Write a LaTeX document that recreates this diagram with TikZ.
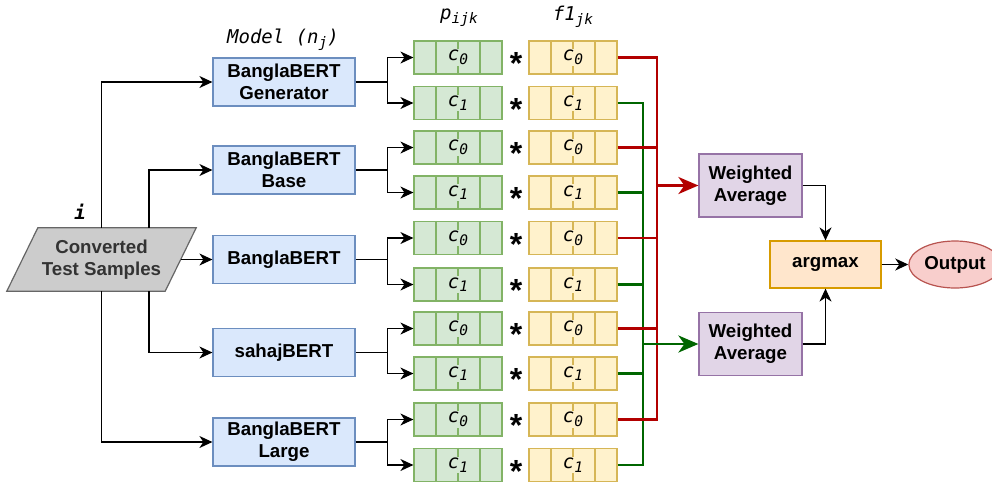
\documentclass[tikz,border=0pt]{standalone}
\usepackage{fontspec}
\setmainfont{Liberation Sans}
\setmonofont{DejaVu Sans Mono}
\usepackage{tikz}
\usetikzlibrary{arrows.meta,shapes.geometric}

\definecolor{modelfill}{HTML}{DAE8FC}
\definecolor{modelline}{HTML}{6C8EBF}
\definecolor{probfill}{HTML}{D5E8D4}
\definecolor{probline}{HTML}{82B366}
\definecolor{fonefill}{HTML}{FFF2CC}
\definecolor{foneline}{HTML}{D6B656}
\definecolor{avgfill}{HTML}{E1D5E7}
\definecolor{avgline}{HTML}{9673A6}
\definecolor{maxfill}{HTML}{FFE6CC}
\definecolor{maxline}{HTML}{D79B00}
\definecolor{outfill}{HTML}{F8CECC}
\definecolor{outline}{HTML}{B85450}
\definecolor{redbus}{HTML}{B20000}
\definecolor{greenbus}{HTML}{006600}

\newcommand{\boldtext}{\bfseries\fontsize{18.7}{22}\selectfont}
\newcommand{\monotext}{\ttfamily\itshape\fontsize{19}{22}\selectfont}
\newcommand{\lowsub}[1]{\raisebox{-0.35ex}{\fontsize{14.5}{15}\selectfont#1}}

\begin{document}
\begin{tikzpicture}[x=1pt,y=-1pt,
    every node/.style={font=\boldtext, align=center, inner sep=2pt},
    model/.style={draw=modelline, fill=modelfill, line width=1.2pt,
      minimum width=142pt, minimum height=48pt},
    cell/.style={draw=#1line, fill=#1fill, line width=1.2pt,
      minimum width=88pt, minimum height=33pt, inner sep=0pt},
    cellname/.style={fill=#1fill, font=\monotext, inner sep=1pt},
    avg/.style={draw=avgline, fill=avgfill, line width=1.2pt,
      minimum width=103pt, minimum height=63pt},
    link/.style={line width=1.2pt},
    tip/.style={-{Stealth[length=13pt,width=12pt,inset=4pt]}},
    bus/.style={line width=2.6pt, draw=#1},
    bigtip/.style={-{Stealth[length=20pt,width=17pt,inset=6pt]}}
  ]
    \useasboundingbox (0,0) rectangle (992,483);

    % input
    \node[minimum width=158pt, minimum height=63pt, inner sep=0pt] (src) at (101.5,259.5) {};
    \filldraw[fill=black!20, draw=black!60, line width=1.2pt]
      ([xshift=-15.5pt]src.south west) -- ([xshift=-15.5pt]src.south east)
      -- ([xshift=15.5pt]src.north east) -- ([xshift=15.5pt]src.north west) -- cycle;
    \node[text=black!80] (srctext) at (src) {Converted\\Test Samples};
    \node[font=\bfseries\monotext] (ilabel) at (80,212) {i};

    % models
    \node[font=\monotext] (modelname) at (283,40) {Model (n\lowsub{j})};
    \node[model] (m1) at (284,82) {BanglaBERT\\Generator};
    \node[model] (m2) at (284,170) {BanglaBERT\\Base};
    \node[model] (m3) at (284,259.5) {BanglaBERT};
    \node[model] (m4) at (284,352.5) {sahajBERT};
    \node[model] (m5) at (284,442) {BanglaBERT\\Large};

    \draw[link,tip] (src.north) |- (m1.west);
    \draw[link,tip] ([xshift=47.5pt]src.north) |- (m2.west);
    \draw[link,tip] (src.east) -- (m3.west);
    \draw[link,tip] ([xshift=47.5pt]src.south) |- (m4.west);
    \draw[link,tip] (src.south) |- (m5.west);

    % probability and f1 cells
    \node[font=\monotext] (phead) at (459,18) {p\lowsub{ijk}};
    \node[font=\monotext] (fhead) at (573,17) {f1\lowsub{jk}};
    \foreach \y [count=\r] in {57.5,103,147.5,192.5,238,284.5,328.5,373.5,419.5,465} {
      \pgfmathtruncatemacro\k{mod(\r+1,2)}
      \node[cell=prob] (p\r) at (458,\y) {};
      \node[cell=fone] (f\r) at (573,\y) {};
      \foreach \c/\s in {p/prob,f/fone} {
        \draw[\s line, line width=1.2pt] ([xshift=-22pt]\c\r.north) -- ([xshift=-22pt]\c\r.south);
        \draw[\s line, line width=1.2pt] (\c\r.north) -- (\c\r.south);
        \draw[\s line, line width=1.2pt] ([xshift=22pt]\c\r.north) -- ([xshift=22pt]\c\r.south);
        \node[cellname=\s] at (\c\r) {c\lowsub{\k}};
      }
      \node[font=\bfseries\fontsize{32}{32}\selectfont, inner sep=0pt] (star\r) at (516,\y+6) {*};
    }

    \foreach \j in {1,...,5} {
      \pgfmathtruncatemacro\a{2*\j-1}
      \pgfmathtruncatemacro\b{2*\j}
      \draw[link] (m\j.east) -- ++(32,0) coordinate (fork\j);
      \draw[link,tip] (fork\j) |- (p\a.west);
      \draw[link,tip] (fork\j) |- (p\b.west);
    }

    % weighted averages
    \node[avg] (w1) at (750.5,185.5) {Weighted\\Average};
    \node[avg] (w2) at (750.5,344) {Weighted\\Average};
    \coordinate (rbus) at (657,0);
    \coordinate (gbus) at (643,0);

    \draw[bus=greenbus] (f2.east) -| (f10.east -| gbus) -- (f10.east);
    \foreach \r in {4,6,8}
      \draw[bus=greenbus] (f\r.east) -- (f\r.east -| gbus);
    \draw[bus=redbus] (f1.east) -| (f9.east -| rbus) -- (f9.east);
    \foreach \r in {3,5,7}
      \draw[bus=redbus] (f\r.east) -- (f\r.east -| rbus);
    \draw[bus=redbus,bigtip] (w1.west -| rbus) -- (w1.west);
    \draw[bus=greenbus,bigtip] (w2.west -| gbus) -- (w2.west);

    % result
    \node[draw=maxline, fill=maxfill, line width=1.2pt, minimum width=111pt,
      minimum height=47pt] (amax) at (825.5,264.5) {argmax};
    \node[ellipse, draw=outline, fill=outfill, line width=1.2pt,
      minimum height=47pt] (out) at (955,264.5) {Output};
    \draw[link,tip] (w1.east) -| (amax.north);
    \draw[link,tip] (w2.east) -| (amax.south);
    \draw[link,tip] (amax) -- (out);
\end{tikzpicture}
\end{document}
